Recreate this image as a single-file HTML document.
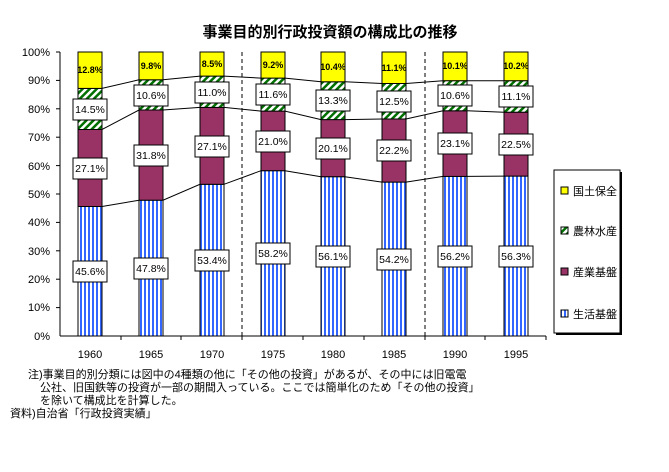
<!DOCTYPE html>
<html><head><meta charset="utf-8"><style>
body{margin:0;background:#fff;}
svg{display:block;font-family:"Liberation Sans","Noto Sans CJK JP",sans-serif;}
</style></head><body>
<svg width="669" height="472" viewBox="0 0 669 472" xmlns="http://www.w3.org/2000/svg">
<defs>
<pattern id="bl" width="4" height="4" patternUnits="userSpaceOnUse"><rect width="4" height="4" fill="#fff"/><rect width="2" height="4" fill="#3366ff"/></pattern>
<pattern id="gr" width="5" height="5" patternUnits="userSpaceOnUse" patternTransform="rotate(45)"><rect width="5" height="5" fill="#fff"/><rect width="2.5" height="5" fill="#007000"/></pattern>
</defs>
<text x="330" y="37" font-size="15" font-weight="bold" text-anchor="middle">事業目的別行政投資額の構成比の推移</text>
<g font-size="11" text-anchor="end">
<text x="50" y="56">100%</text><text x="50" y="84">90%</text><text x="50" y="113">80%</text><text x="50" y="141">70%</text><text x="50" y="170">60%</text><text x="50" y="198">50%</text><text x="50" y="226">40%</text><text x="50" y="255">30%</text><text x="50" y="283">20%</text><text x="50" y="311">10%</text><text x="50" y="340">0%</text>
</g>
<g stroke="#000" stroke-width="1">
<line x1="60" y1="52" x2="60" y2="336"/><line x1="60" y1="336" x2="546" y2="336"/>
<line x1="56" y1="52" x2="60" y2="52"/><line x1="56" y1="80.4" x2="60" y2="80.4"/><line x1="56" y1="108.8" x2="60" y2="108.8"/><line x1="56" y1="137.2" x2="60" y2="137.2"/><line x1="56" y1="165.6" x2="60" y2="165.6"/><line x1="56" y1="194" x2="60" y2="194"/><line x1="56" y1="222.4" x2="60" y2="222.4"/><line x1="56" y1="250.8" x2="60" y2="250.8"/><line x1="56" y1="279.2" x2="60" y2="279.2"/><line x1="56" y1="307.6" x2="60" y2="307.6"/>
<line x1="121" y1="336" x2="121" y2="340"/><line x1="181" y1="336" x2="181" y2="340"/><line x1="242" y1="336" x2="242" y2="340"/><line x1="303" y1="336" x2="303" y2="340"/><line x1="364" y1="336" x2="364" y2="340"/><line x1="425" y1="336" x2="425" y2="340"/><line x1="485" y1="336" x2="485" y2="340"/><line x1="546" y1="336" x2="546" y2="340"/>
<line x1="242" y1="52" x2="242" y2="336" stroke-dasharray="4,3"/>
<line x1="425" y1="52" x2="425" y2="336" stroke-dasharray="4,3"/>
</g>
<g fill="none" stroke="#000" stroke-width="1">
<polyline points="78,206.5 102,206.5 139,200.2 163,200.2 200,184.3 224,184.3 261,170.7 285,170.7 321,176.7 345,176.7 382,182.1 406,182.1 443,176.4 467,176.4 504,176.1 528,176.1"/>
<polyline points="78,129.5 102,129.5 139,110 163,110 200,107.4 224,107.4 261,111.1 285,111.1 321,119.6 345,119.6 382,119 406,119 443,110.8 467,110.8 504,112.2 528,112.2"/>
<polyline points="78,88.4 102,88.4 139,79.8 163,79.8 200,76.1 224,76.1 261,78.1 285,78.1 321,81.8 345,81.8 382,83.5 406,83.5 443,80.7 467,80.7 504,80.7 528,80.7"/>
</g>
<g stroke="#000" stroke-width="1">
<!-- 1960 -->
<rect x="78" y="206.5" width="24" height="129.5" fill="url(#bl)"/><rect x="78" y="129.5" width="24" height="77" fill="#993366"/><rect x="78" y="88.4" width="24" height="41.1" fill="url(#gr)"/><rect x="78" y="52" width="24" height="36.4" fill="#ffff00"/>
<!-- 1965 -->
<rect x="139" y="200.2" width="24" height="135.8" fill="url(#bl)"/><rect x="139" y="110" width="24" height="90.2" fill="#993366"/><rect x="139" y="79.8" width="24" height="30.2" fill="url(#gr)"/><rect x="139" y="52" width="24" height="27.8" fill="#ffff00"/>
<!-- 1970 -->
<rect x="200" y="184.3" width="24" height="151.7" fill="url(#bl)"/><rect x="200" y="107.4" width="24" height="76.9" fill="#993366"/><rect x="200" y="76.1" width="24" height="31.3" fill="url(#gr)"/><rect x="200" y="52" width="24" height="24.1" fill="#ffff00"/>
<!-- 1975 -->
<rect x="261" y="170.7" width="24" height="165.3" fill="url(#bl)"/><rect x="261" y="111.1" width="24" height="59.6" fill="#993366"/><rect x="261" y="78.1" width="24" height="33" fill="url(#gr)"/><rect x="261" y="52" width="24" height="26.1" fill="#ffff00"/>
<!-- 1980 -->
<rect x="321" y="176.7" width="24" height="159.3" fill="url(#bl)"/><rect x="321" y="119.6" width="24" height="57.1" fill="#993366"/><rect x="321" y="81.8" width="24" height="37.8" fill="url(#gr)"/><rect x="321" y="52" width="24" height="29.8" fill="#ffff00"/>
<!-- 1985 -->
<rect x="382" y="182.1" width="24" height="153.9" fill="url(#bl)"/><rect x="382" y="119" width="24" height="63.1" fill="#993366"/><rect x="382" y="83.5" width="24" height="35.5" fill="url(#gr)"/><rect x="382" y="52" width="24" height="31.5" fill="#ffff00"/>
<!-- 1990 -->
<rect x="443" y="176.4" width="24" height="159.6" fill="url(#bl)"/><rect x="443" y="110.8" width="24" height="65.6" fill="#993366"/><rect x="443" y="80.7" width="24" height="30.1" fill="url(#gr)"/><rect x="443" y="52" width="24" height="28.7" fill="#ffff00"/>
<!-- 1995 -->
<rect x="504" y="176.1" width="24" height="159.9" fill="url(#bl)"/><rect x="504" y="112.2" width="24" height="63.9" fill="#993366"/><rect x="504" y="80.7" width="24" height="31.5" fill="url(#gr)"/><rect x="504" y="52" width="24" height="28.7" fill="#ffff00"/>
</g>
<!-- label boxes -->
<g fill="#fff" stroke="#000" stroke-width="1">
<rect x="73" y="261" width="34" height="21"/><rect x="73" y="158" width="34" height="21"/><rect x="73" y="99" width="34" height="21"/>
<rect x="134" y="258" width="34" height="21"/><rect x="134" y="145" width="34" height="21"/><rect x="134" y="85" width="34" height="21"/>
<rect x="195" y="250" width="34" height="21"/><rect x="195" y="136" width="34" height="21"/><rect x="195" y="82" width="34" height="21"/>
<rect x="256" y="243" width="34" height="21"/><rect x="256" y="131" width="34" height="21"/><rect x="256" y="84" width="34" height="21"/>
<rect x="316" y="246" width="34" height="21"/><rect x="316" y="138" width="34" height="21"/><rect x="316" y="90" width="34" height="21"/>
<rect x="377" y="249" width="34" height="21"/><rect x="377" y="140" width="34" height="21"/><rect x="377" y="91" width="34" height="21"/>
<rect x="438" y="246" width="34" height="21"/><rect x="438" y="133" width="34" height="21"/><rect x="438" y="85" width="34" height="21"/>
<rect x="499" y="246" width="34" height="21"/><rect x="499" y="134" width="34" height="21"/><rect x="499" y="86" width="34" height="21"/>
</g>
<g font-size="10.5" text-anchor="middle">
<text x="90" y="275">45.6%</text><text x="90" y="172">27.1%</text><text x="90" y="113">14.5%</text>
<text x="151" y="272">47.8%</text><text x="151" y="159">31.8%</text><text x="151" y="99">10.6%</text>
<text x="212" y="264">53.4%</text><text x="212" y="150">27.1%</text><text x="212" y="96">11.0%</text>
<text x="273" y="257">58.2%</text><text x="273" y="145">21.0%</text><text x="273" y="98">11.6%</text>
<text x="333" y="260">56.1%</text><text x="333" y="152">20.1%</text><text x="333" y="104">13.3%</text>
<text x="394" y="263">54.2%</text><text x="394" y="154">22.2%</text><text x="394" y="105">12.5%</text>
<text x="455" y="260">56.2%</text><text x="455" y="147">23.1%</text><text x="455" y="99">10.6%</text>
<text x="516" y="260">56.3%</text><text x="516" y="148">22.5%</text><text x="516" y="100">11.1%</text>
</g>
<g font-size="9" font-weight="bold" text-anchor="middle">
<text x="90" y="73">12.8%</text><text x="151" y="69">9.8%</text><text x="212" y="67">8.5%</text><text x="273" y="68">9.2%</text><text x="333" y="70">10.4%</text><text x="394" y="71">11.1%</text><text x="455" y="69">10.1%</text><text x="516" y="69">10.2%</text>
</g>
<g font-size="11" text-anchor="middle">
<text x="90" y="358">1960</text><text x="151" y="358">1965</text><text x="212" y="358">1970</text><text x="273" y="358">1975</text><text x="333" y="358">1980</text><text x="394" y="358">1985</text><text x="455" y="358">1990</text><text x="516" y="358">1995</text>
</g>
<!-- legend -->
<rect x="556" y="172" width="66" height="163" fill="#000"/>
<rect x="554" y="170" width="66" height="163" fill="#fff" stroke="#000"/>
<g stroke="#000" stroke-width="1">
<rect x="561" y="187" width="7" height="7" fill="#ffff00"/>
<rect x="561" y="227" width="7" height="7" fill="url(#gr)"/>
<rect x="561" y="268" width="7" height="7" fill="#993366"/>
<rect x="561" y="310" width="7" height="7" fill="url(#bl)"/>
</g>
<g font-size="11">
<text x="573" y="195">国土保全</text><text x="573" y="235">農林水産</text><text x="573" y="276">産業基盤</text><text x="573" y="318">生活基盤</text>
</g>
<g font-size="11">
<text x="28" y="378">注)事業目的別分類には図中の4種類の他に「その他の投資」があるが、その中には旧電電</text>
<text x="40" y="391">公社、旧国鉄等の投資が一部の期間入っている。ここでは簡単化のため「その他の投資」</text>
<text x="40" y="404">を除いて構成比を計算した。</text>
<text x="10" y="417">資料)自治省「行政投資実績」</text>
</g>
</svg>
</body></html>
